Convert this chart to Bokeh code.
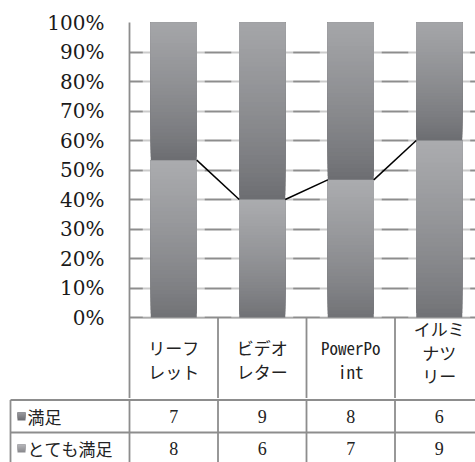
import numpy as np
from bokeh.plotting import figure
from bokeh.layouts import column
from bokeh.models import Range1d, FixedTicker, NumeralTickFormatter, ColumnDataSource
from bokeh.core.properties import value
from bokeh.embed import file_html
from bokeh.resources import INLINE

# ---------------- data ----------------
categories = ["リーフレット", "ビデオレター", "PowerPoint", "イルミナツリー"]
category_labels = ["リーフ\nレット", "ビデオ\nレター", "PowerPo\nint", "イルミ\nナツ\nリー"]
series_names = ["満足", "とても満足"]
manzoku = [7, 9, 8, 6]          # 満足 (upper segment)
totemo = [8, 6, 7, 9]           # とても満足 (lower segment)
y_ticks = [0, 0.1, 0.2, 0.3, 0.4, 0.5, 0.6, 0.7, 0.8, 0.9, 1.0]

# ---------------- layout constants (pixels) ----------------
W, H = 475, 462
FRAME_L = 129          # left of plot area
CAT_W = 88.5           # category width in px
PLOT_TOP = 22
PLOT_BOT = 317         # 0% line
HEADER_BOT = 398
PX_PER_UNIT = PLOT_BOT - PLOT_TOP
GRID_COL = "#8d8d8d"
LW = 1.8

def tx(px):  # px -> category units
    return (px - FRAME_L) / CAT_W

def ty(px):  # px -> top figure data units
    return (PLOT_BOT - px) / PX_PER_UNIT

def by(px):  # px -> bottom figure data units
    return H - px

XMAX = tx(W)
n = len(categories)
xc = np.arange(n) + 0.5
tot = np.array(manzoku) + np.array(totemo)
low = np.array(totemo) / tot
BAR_W = 0.52

cjk_font = value("Noto Sans Mono CJK JP, Noto Sans CJK JP")
num_font = value("Liberation Serif")

# ---------------- top figure ----------------
p = figure(width=W, height=HEADER_BOT, x_range=Range1d(0, XMAX),
           y_range=Range1d(ty(HEADER_BOT), 1.0), output_backend="svg",
           toolbar_location=None, x_axis_location=None, frame_align=False,
           min_border_left=FRAME_L, min_border_right=0, min_border_top=PLOT_TOP,
           min_border_bottom=0)
p.outline_line_color = None
p.background_fill_color = "white"
p.border_fill_color = "white"
p.xgrid.visible = False
p.yaxis.ticker = FixedTicker(ticks=y_ticks)
p.yaxis.formatter = NumeralTickFormatter(format="0%")
p.yaxis.major_label_text_font = "DejaVu Serif"
p.yaxis.major_label_text_font_size = "20px"
p.yaxis.major_label_text_color = "#1a1a1a"
p.yaxis.major_label_standoff = 19
p.yaxis.major_tick_line_color = None
p.yaxis.minor_tick_line_color = None
p.yaxis.axis_line_color = GRID_COL
p.yaxis.axis_line_width = LW
p.ygrid.grid_line_color = GRID_COL
p.ygrid.grid_line_width = LW

# soft white glow around bars (fades gridlines)
p.vbar(x=xc, width=BAR_W + 0.18, bottom=0, top=1.0, fill_color="white",
       fill_alpha=0.55, line_color=None)

def gradient_segment(fig, bottoms, tops, light, dark, nstrips=40):
    # overlapping strips (each runs to the segment top) so no seams show
    xs, bs, ts, cs = [], [], [], []
    for i in range(n):
        b, t = bottoms[i], tops[i]
        for k in range(nstrips):
            f0 = k / nstrips
            fm = (k + 0.5) / nstrips
            g = fm ** 0.8
            col = tuple(int(round(dark[j] + (light[j] - dark[j]) * g)) for j in range(3))
            xs.append(xc[i])
            bs.append(b + (t - b) * f0)
            ts.append(t)
            cs.append("#%02x%02x%02x" % col)
    src = ColumnDataSource(dict(x=xs, bottom=bs, top=ts, color=cs))
    fig.vbar(x="x", bottom="bottom", top="top", width=BAR_W, fill_color="color",
             line_color=None, source=src)

gradient_segment(p, np.zeros(n), low, (171, 172, 175), (111, 112, 116))
gradient_segment(p, low, np.ones(n), (165, 166, 169), (107, 108, 112))

# series lines between bars
p.segment(x0=xc[:-1] + BAR_W / 2, y0=low[:-1], x1=xc[1:] - BAR_W / 2, y1=low[1:],
          line_color="black", line_width=1.5)

# header cell borders (category label row)
p.segment(x0=np.arange(1, n), y0=ty(HEADER_BOT), x1=np.arange(1, n), y1=0,
          line_color=GRID_COL, line_width=LW)

# category labels
label_y = [ty(359 if lab.count("\n") < 2 else 351.5) for lab in category_labels]
p.text(x=xc, y=label_y, text=category_labels, text_align="center",
       text_baseline="middle", text_font=cjk_font, text_font_size="17px",
       text_color="#222222", text_line_height=0.93)

# ---------------- bottom figure (data table) ----------------
BH = H - HEADER_BOT
q = figure(width=W, height=BH, x_range=Range1d(tx(0), XMAX), y_range=Range1d(0, BH),
           output_backend="svg", toolbar_location=None, x_axis_location=None,
           y_axis_location=None, frame_align=False, min_border_left=0, min_border_right=0,
           min_border_top=0, min_border_bottom=0)
q.outline_line_color = None
q.xgrid.visible = False
q.ygrid.visible = False
q.background_fill_color = "white"
q.border_fill_color = "white"

TABLE_L = tx(10)
row_lines = [by(399.5), by(432)]
q.segment(x0=TABLE_L, y0=row_lines, x1=XMAX, y1=row_lines,
          line_color=GRID_COL, line_width=LW)
q.segment(x0=[TABLE_L] + list(range(n)), y0=0, x1=[TABLE_L] + list(range(n)), y1=by(399.5),
          line_color=GRID_COL, line_width=LW)

row_y = [by(416), by(448)]
# legend keys (small gradient squares, overlapping strips)
key_x = tx(21)
key_cols = [["#707074", "#7c7c80", "#88888c", "#949498"],
            ["#8c8c90", "#98989c", "#a4a4a8", "#b0b0b4"]]
for r in range(2):
    for k in range(4):
        hgt = 8 - 2 * k
        q.rect(x=key_x, y=row_y[r] + k, width=8, height=hgt,
               width_units="screen", height_units="screen",
               fill_color=key_cols[r][k], line_color=None)
q.text(x=tx(27), y=row_y, text=series_names, text_align="left", text_baseline="middle",
       text_font=cjk_font, text_font_size="17px", text_color="#222222")

for r, vals in enumerate([manzoku, totemo]):
    q.text(x=xc, y=[row_y[r]] * n, text=[str(v) for v in vals], text_align="center",
           text_baseline="middle", text_font=num_font, text_font_size="18px",
           text_color="#222222")

layout = column(p, q, spacing=0)
open("out.html", "w").write(file_html(layout, INLINE))
